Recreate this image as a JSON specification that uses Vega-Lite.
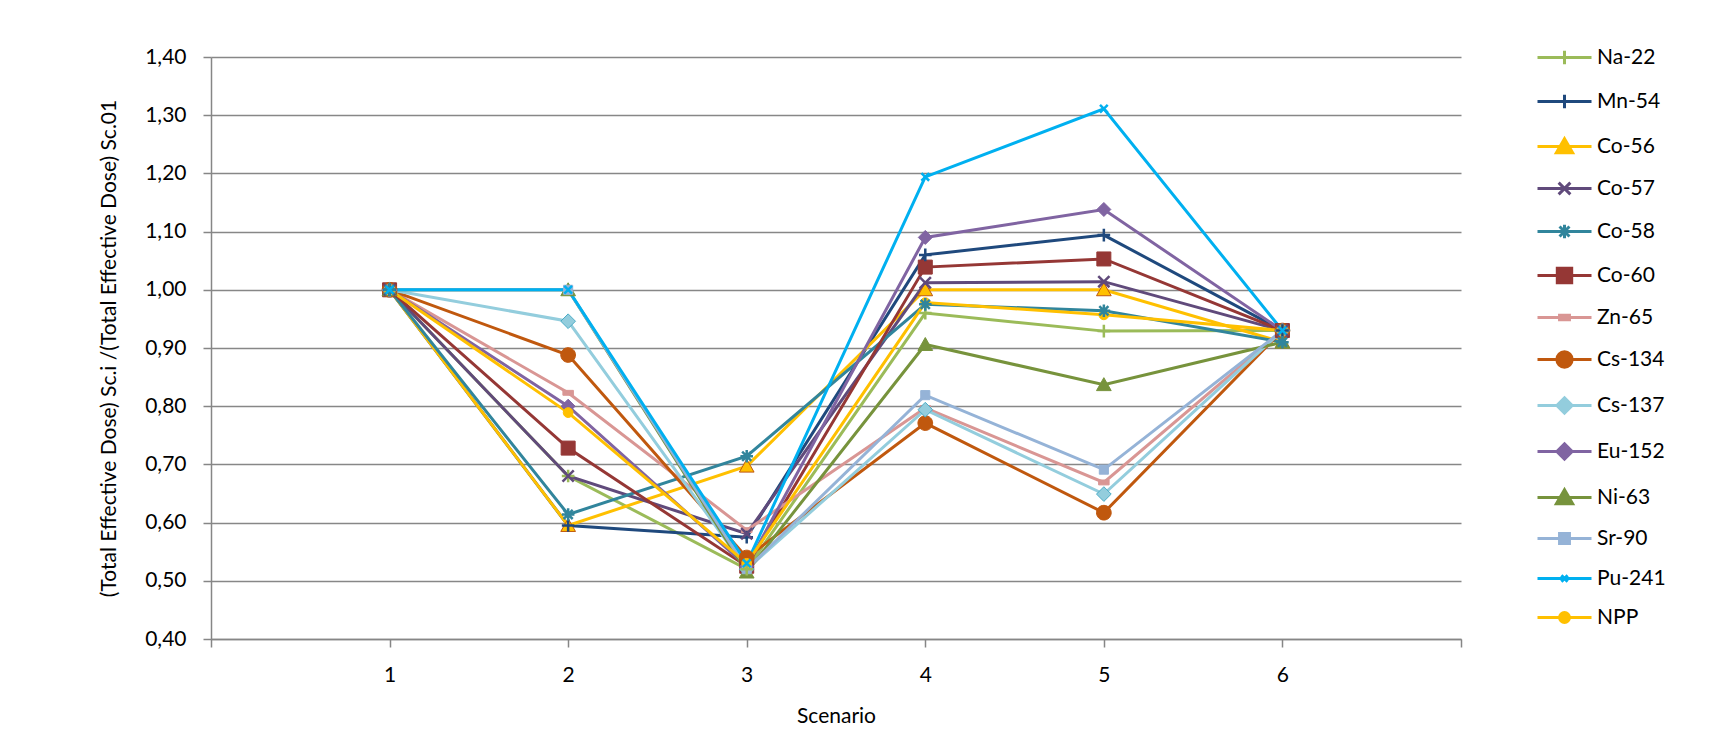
{
  "$schema": "https://vega.github.io/schema/vega-lite/v6.json",
  "width": 1250,
  "height": 582,
  "autosize": {"type": "none"},
  "padding": {"left": 211, "top": 57, "right": 272, "bottom": 104},
  "background": "white",
  "config": {
    "font": "Lato",
    "view": {"stroke": null},
    "axis": {
      "labelFont": "Lato", "labelFontSize": 21, "labelColor": "#000000",
      "titleFont": "Lato", "titleFontSize": 21, "titleColor": "#000000", "titleFontWeight": "normal",
      "domainColor": "#868686", "domainWidth": 1.5, "tickColor": "#868686", "tickWidth": 1.5, "tickSize": 8
    }
  },
  "data": {"values": [
    {"nuclide": "Na-22", "scenario": 1, "ratio": 1.0}, {"nuclide": "Na-22", "scenario": 2, "ratio": 0.68}, {"nuclide": "Na-22", "scenario": 3, "ratio": 0.52}, {"nuclide": "Na-22", "scenario": 4, "ratio": 0.96}, {"nuclide": "Na-22", "scenario": 5, "ratio": 0.929}, {"nuclide": "Na-22", "scenario": 6, "ratio": 0.93},
    {"nuclide": "Mn-54", "scenario": 1, "ratio": 1.0}, {"nuclide": "Mn-54", "scenario": 2, "ratio": 0.595}, {"nuclide": "Mn-54", "scenario": 3, "ratio": 0.575}, {"nuclide": "Mn-54", "scenario": 4, "ratio": 1.06}, {"nuclide": "Mn-54", "scenario": 5, "ratio": 1.094}, {"nuclide": "Mn-54", "scenario": 6, "ratio": 0.93},
    {"nuclide": "Co-56", "scenario": 1, "ratio": 1.0}, {"nuclide": "Co-56", "scenario": 2, "ratio": 0.595}, {"nuclide": "Co-56", "scenario": 3, "ratio": 0.697}, {"nuclide": "Co-56", "scenario": 4, "ratio": 1.0}, {"nuclide": "Co-56", "scenario": 5, "ratio": 1.0}, {"nuclide": "Co-56", "scenario": 6, "ratio": 0.91},
    {"nuclide": "Co-57", "scenario": 1, "ratio": 1.0}, {"nuclide": "Co-57", "scenario": 2, "ratio": 0.68}, {"nuclide": "Co-57", "scenario": 3, "ratio": 0.581}, {"nuclide": "Co-57", "scenario": 4, "ratio": 1.012}, {"nuclide": "Co-57", "scenario": 5, "ratio": 1.014}, {"nuclide": "Co-57", "scenario": 6, "ratio": 0.93},
    {"nuclide": "Co-58", "scenario": 1, "ratio": 1.0}, {"nuclide": "Co-58", "scenario": 2, "ratio": 0.614}, {"nuclide": "Co-58", "scenario": 3, "ratio": 0.714}, {"nuclide": "Co-58", "scenario": 4, "ratio": 0.975}, {"nuclide": "Co-58", "scenario": 5, "ratio": 0.964}, {"nuclide": "Co-58", "scenario": 6, "ratio": 0.91},
    {"nuclide": "Co-60", "scenario": 1, "ratio": 1.0}, {"nuclide": "Co-60", "scenario": 2, "ratio": 0.728}, {"nuclide": "Co-60", "scenario": 3, "ratio": 0.525}, {"nuclide": "Co-60", "scenario": 4, "ratio": 1.039}, {"nuclide": "Co-60", "scenario": 5, "ratio": 1.053}, {"nuclide": "Co-60", "scenario": 6, "ratio": 0.93},
    {"nuclide": "Zn-65", "scenario": 1, "ratio": 1.0}, {"nuclide": "Zn-65", "scenario": 2, "ratio": 0.823}, {"nuclide": "Zn-65", "scenario": 3, "ratio": 0.587}, {"nuclide": "Zn-65", "scenario": 4, "ratio": 0.797}, {"nuclide": "Zn-65", "scenario": 5, "ratio": 0.669}, {"nuclide": "Zn-65", "scenario": 6, "ratio": 0.93},
    {"nuclide": "Cs-134", "scenario": 1, "ratio": 1.0}, {"nuclide": "Cs-134", "scenario": 2, "ratio": 0.888}, {"nuclide": "Cs-134", "scenario": 3, "ratio": 0.54}, {"nuclide": "Cs-134", "scenario": 4, "ratio": 0.771}, {"nuclide": "Cs-134", "scenario": 5, "ratio": 0.617}, {"nuclide": "Cs-134", "scenario": 6, "ratio": 0.93},
    {"nuclide": "Cs-137", "scenario": 1, "ratio": 1.0}, {"nuclide": "Cs-137", "scenario": 2, "ratio": 0.946}, {"nuclide": "Cs-137", "scenario": 3, "ratio": 0.52}, {"nuclide": "Cs-137", "scenario": 4, "ratio": 0.794}, {"nuclide": "Cs-137", "scenario": 5, "ratio": 0.649}, {"nuclide": "Cs-137", "scenario": 6, "ratio": 0.93},
    {"nuclide": "Eu-152", "scenario": 1, "ratio": 1.0}, {"nuclide": "Eu-152", "scenario": 2, "ratio": 0.8}, {"nuclide": "Eu-152", "scenario": 3, "ratio": 0.525}, {"nuclide": "Eu-152", "scenario": 4, "ratio": 1.09}, {"nuclide": "Eu-152", "scenario": 5, "ratio": 1.138}, {"nuclide": "Eu-152", "scenario": 6, "ratio": 0.93},
    {"nuclide": "Ni-63", "scenario": 1, "ratio": 1.0}, {"nuclide": "Ni-63", "scenario": 2, "ratio": 1.0}, {"nuclide": "Ni-63", "scenario": 3, "ratio": 0.515}, {"nuclide": "Ni-63", "scenario": 4, "ratio": 0.906}, {"nuclide": "Ni-63", "scenario": 5, "ratio": 0.837}, {"nuclide": "Ni-63", "scenario": 6, "ratio": 0.91},
    {"nuclide": "Sr-90", "scenario": 1, "ratio": 1.0}, {"nuclide": "Sr-90", "scenario": 2, "ratio": 1.0}, {"nuclide": "Sr-90", "scenario": 3, "ratio": 0.52}, {"nuclide": "Sr-90", "scenario": 4, "ratio": 0.819}, {"nuclide": "Sr-90", "scenario": 5, "ratio": 0.691}, {"nuclide": "Sr-90", "scenario": 6, "ratio": 0.93},
    {"nuclide": "Pu-241", "scenario": 1, "ratio": 1.0}, {"nuclide": "Pu-241", "scenario": 2, "ratio": 1.0}, {"nuclide": "Pu-241", "scenario": 3, "ratio": 0.53}, {"nuclide": "Pu-241", "scenario": 4, "ratio": 1.194}, {"nuclide": "Pu-241", "scenario": 5, "ratio": 1.311}, {"nuclide": "Pu-241", "scenario": 6, "ratio": 0.93},
    {"nuclide": "NPP", "scenario": 1, "ratio": 1.0}, {"nuclide": "NPP", "scenario": 2, "ratio": 0.789}, {"nuclide": "NPP", "scenario": 3, "ratio": 0.53}, {"nuclide": "NPP", "scenario": 4, "ratio": 0.978}, {"nuclide": "NPP", "scenario": 5, "ratio": 0.957}, {"nuclide": "NPP", "scenario": 6, "ratio": 0.93}
  ]},
  "encoding": {
    "x": {
      "field": "scenario", "type": "quantitative",
      "scale": {"domain": [0, 7], "nice": false, "zero": false},
      "axis": {
        "title": "Scenario", "values": [0, 1, 2, 3, 4, 5, 6, 7], "grid": false,
        "labelExpr": "datum.value >= 1 && datum.value <= 6 ? datum.label : ''",
        "labelPadding": 17, "titlePadding": 20
      }
    },
    "y": {
      "field": "ratio", "type": "quantitative",
      "scale": {"domain": [0.4, 1.4], "nice": false, "zero": false},
      "axis": {
        "title": "(Total Effective Dose) Sc.i /(Total Effective Dose) Sc.01",
        "values": [0.4, 0.5, 0.6, 0.7, 0.8, 0.9, 1.0, 1.1, 1.2, 1.3, 1.4],
        "labelExpr": "replace(format(datum.value, '.2f'), '.', ',')",
        "grid": true, "gridColor": "#878787", "gridWidth": 1.5,
        "labelPadding": 17, "titlePadding": 25
      }
    }
  },
  "layer": [
    {
      "mark": {"type": "line", "strokeWidth": 3},
      "encoding": {
        "color": {
          "field": "nuclide", "type": "nominal", "legend": null,
          "scale": {
            "domain": ["Na-22", "Mn-54", "Co-56", "Co-57", "Co-58", "Co-60", "Zn-65", "Cs-134", "Cs-137", "Eu-152", "Ni-63", "Sr-90", "Pu-241", "NPP"],
            "range": ["#9BBB59", "#1F497D", "#FFC000", "#604A7B", "#31859C", "#953735", "#D99694", "#C0580E", "#93CDDD", "#8064A2", "#77933C", "#95B3D7", "#00B0F0", "#FFC000"]
          }
        }
      }
    },
    {
      "transform": [{"filter": {"field": "nuclide", "oneOf": ["Co-56", "Co-60", "Zn-65", "Cs-134", "Cs-137", "Eu-152", "Ni-63", "Sr-90", "NPP"]}}],
      "mark": {"type": "point", "filled": true, "size": 196, "strokeWidth": 1, "opacity": 1},
      "encoding": {
        "fill": {
          "field": "nuclide", "type": "nominal", "legend": null,
          "scale": {
            "domain": ["Co-56", "Co-60", "Zn-65", "Cs-134", "Cs-137", "Eu-152", "Ni-63", "Sr-90", "NPP"],
            "range": ["#FFC000", "#953735", "#D99694", "#C0580E", "#93CDDD", "#8064A2", "#77933C", "#95B3D7", "#FFC000"]
          }
        },
        "stroke": {
          "field": "nuclide", "type": "nominal", "legend": null,
          "scale": {
            "domain": ["Co-56", "Co-60", "Zn-65", "Cs-134", "Cs-137", "Eu-152", "Ni-63", "Sr-90", "NPP"],
            "range": ["#C0580E", "#953735", "#D99694", "#C0580E", "#4BACC6", "#8064A2", "#77933C", "#95B3D7", "#FFC000"]
          }
        },
        "shape": {
          "field": "nuclide", "type": "nominal", "legend": null,
          "scale": {
            "domain": ["Co-56", "Co-60", "Zn-65", "Cs-134", "Cs-137", "Eu-152", "Ni-63", "Sr-90", "NPP"],
            "range": [
              "M0,-1L1.05,0.85L-1.05,0.85Z",
              "M-1,-1L1,-1L1,1L-1,1Z",
              "M-0.75,-0.35L0.75,-0.35L0.75,0.35L-0.75,0.35Z",
              "M-1.05,0A1.05,1.05 0 1,0 1.05,0A1.05,1.05 0 1,0 -1.05,0Z",
              "M0,-1.05L1.05,0L0,1.05L-1.05,0Z",
              "M0,-1L1,0L0,1L-1,0Z",
              "M0,-1L1.05,0.85L-1.05,0.85Z",
              "M-0.65,-0.65L0.65,-0.65L0.65,0.65L-0.65,0.65Z",
              "M-0.7,0A0.7,0.7 0 1,0 0.7,0A0.7,0.7 0 1,0 -0.7,0Z"
            ]
          }
        }
      }
    },
    {
      "transform": [{"filter": {"field": "nuclide", "oneOf": ["Na-22", "Mn-54", "Co-57", "Co-58", "Pu-241"]}}],
      "mark": {"type": "point", "filled": false, "size": 196, "strokeWidth": 2.5, "opacity": 1},
      "encoding": {
        "color": {
          "field": "nuclide", "type": "nominal", "legend": null,
          "scale": {
            "domain": ["Na-22", "Mn-54", "Co-57", "Co-58", "Pu-241"],
            "range": ["#9BBB59", "#1F497D", "#604A7B", "#31859C", "#00B0F0"]
          }
        },
        "shape": {
          "field": "nuclide", "type": "nominal", "legend": null,
          "scale": {
            "domain": ["Na-22", "Mn-54", "Co-57", "Co-58", "Pu-241"],
            "range": [
              "M-0.9,0L0.9,0M0,-0.9L0,0.9",
              "M-0.9,0L0.9,0M0,-0.9L0,0.9",
              "M-0.8,-0.8L0.8,0.8M-0.8,0.8L0.8,-0.8",
              "M-0.9,0L0.9,0M0,-0.9L0,0.9M-0.65,-0.65L0.65,0.65M-0.65,0.65L0.65,-0.65",
              "M-0.55,-0.55L0.55,0.55M-0.55,0.55L0.55,-0.55"
            ]
          }
        }
      }
    },
    {
      "transform": [{"filter": "false"}],
      "mark": {"type": "point", "filled": true, "size": 324, "strokeWidth": 3, "opacity": 1},
      "encoding": {
        "fill": {
          "field": "nuclide", "type": "nominal",
          "scale": {
            "domain": ["Na-22", "Mn-54", "Co-56", "Co-57", "Co-58", "Co-60", "Zn-65", "Cs-134", "Cs-137", "Eu-152", "Ni-63", "Sr-90", "Pu-241", "NPP"],
            "range": ["#9BBB59", "#1F497D", "#FFC000", "#604A7B", "#31859C", "#953735", "#D99694", "#C0580E", "#93CDDD", "#8064A2", "#77933C", "#95B3D7", "#00B0F0", "#FFC000"]
          },
          "legend": {"title": null, "orient": "none", "legendX": 1343, "legendY": -10, "direction": "vertical", "labelFont": "Lato", "labelFontSize": 21, "labelColor": "#000000", "symbolSize": 324, "symbolStrokeWidth": 3, "symbolOpacity": 1, "rowPadding": 17, "labelOffset": 22, "padding": 0}
        },
        "stroke": {
          "field": "nuclide", "type": "nominal",
          "scale": {
            "domain": ["Na-22", "Mn-54", "Co-56", "Co-57", "Co-58", "Co-60", "Zn-65", "Cs-134", "Cs-137", "Eu-152", "Ni-63", "Sr-90", "Pu-241", "NPP"],
            "range": ["#9BBB59", "#1F497D", "#FFC000", "#604A7B", "#31859C", "#953735", "#D99694", "#C0580E", "#93CDDD", "#8064A2", "#77933C", "#95B3D7", "#00B0F0", "#FFC000"]
          },
          "legend": {"title": null, "orient": "none", "legendX": 1343, "legendY": -10, "direction": "vertical", "labelFont": "Lato", "labelFontSize": 21, "labelColor": "#000000", "symbolSize": 324, "symbolStrokeWidth": 3, "symbolOpacity": 1, "rowPadding": 17, "labelOffset": 22, "padding": 0}
        },
        "shape": {
          "field": "nuclide", "type": "nominal",
          "scale": {
            "domain": ["Na-22", "Mn-54", "Co-56", "Co-57", "Co-58", "Co-60", "Zn-65", "Cs-134", "Cs-137", "Eu-152", "Ni-63", "Sr-90", "Pu-241", "NPP"],
            "range": [
              "M-3,0L3,0M0,-0.75L0,0.75",
              "M-3,0L3,0M0,-0.75L0,0.75",
              "M-3,0L3,0M0,-0.85L0.9,0.7L-0.9,0.7Z",
              "M-3,0L3,0M-0.65,-0.65L0.65,0.65M-0.65,0.65L0.65,-0.65",
              "M-3,0L3,0M0,-0.75L0,0.75M-0.55,-0.55L0.55,0.55M-0.55,0.55L0.55,-0.55",
              "M-3,0L3,0M-0.8,-0.8L0.8,-0.8L0.8,0.8L-0.8,0.8Z",
              "M-3,0L3,0M-0.55,-0.25L0.55,-0.25L0.55,0.25L-0.55,0.25Z",
              "M-3,0L3,0M-0.85,0A0.85,0.85 0 1,0 0.85,0A0.85,0.85 0 1,0 -0.85,0Z",
              "M-3,0L3,0M0,-0.85L0.85,0L0,0.85L-0.85,0Z",
              "M-3,0L3,0M0,-0.85L0.85,0L0,0.85L-0.85,0Z",
              "M-3,0L3,0M0,-0.85L0.9,0.7L-0.9,0.7Z",
              "M-3,0L3,0M-0.55,-0.55L0.55,-0.55L0.55,0.55L-0.55,0.55Z",
              "M-3,0L3,0M-0.35,-0.35L0.35,0.35M-0.35,0.35L0.35,-0.35",
              "M-3,0L3,0M-0.55,0A0.55,0.55 0 1,0 0.55,0A0.55,0.55 0 1,0 -0.55,0Z"
            ]
          },
          "legend": {"title": null, "orient": "none", "legendX": 1343, "legendY": -10, "direction": "vertical", "labelFont": "Lato", "labelFontSize": 21, "labelColor": "#000000", "symbolSize": 324, "symbolStrokeWidth": 3, "symbolOpacity": 1, "rowPadding": 17, "labelOffset": 22, "padding": 0}
        }
      }
    }
  ],
  "resolve": {
    "scale": {"color": "independent", "fill": "independent", "stroke": "independent", "shape": "independent"},
    "legend": {"color": "independent", "fill": "independent", "stroke": "independent", "shape": "independent"}
  }
}
